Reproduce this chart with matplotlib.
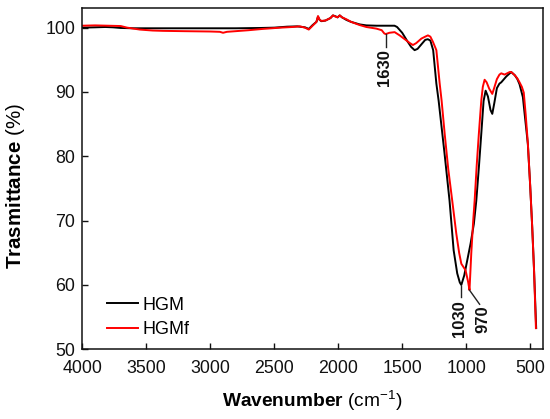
import matplotlib
matplotlib.use("Agg")
import matplotlib.pyplot as plt

plt.rcParams['font.family'] = ['Liberation Sans', 'DejaVu Sans']
plt.rcParams['mathtext.fontset'] = 'custom'
plt.rcParams['mathtext.rm'] = 'Liberation Sans'
plt.rcParams['mathtext.it'] = 'Liberation Sans:italic'
plt.rcParams['mathtext.bf'] = 'Liberation Sans:bold'

# ---- data ----
hgm_wn = [4000, 3900, 3820, 3760, 3700, 3600, 3400, 3200, 3000, 2800, 2600, 2500, 2400,
          2320, 2260, 2230, 2200, 2170, 2158, 2145, 2131, 2100, 2060, 2041, 2020, 2005,
          1988, 1970, 1936, 1900, 1832, 1780, 1700, 1600, 1560, 1540, 1500, 1460, 1430,
          1403, 1380, 1350, 1320, 1300, 1280, 1258, 1233, 1215, 1170, 1130, 1098, 1070,
          1050, 1038, 1015, 990, 965, 940, 921, 900, 882, 864, 848, 830, 810, 796, 780,
          760, 740, 726, 700, 687, 665, 648, 620, 600, 583, 557, 540, 518, 500, 484, 470, 453]
hgm_t = [100.0, 100.05, 100.1, 100.05, 99.95, 99.9, 99.9, 99.9, 99.9, 99.9, 99.95, 100.0, 100.15,
         100.2, 100.05, 99.8, 100.4, 100.9, 101.7, 101.2, 101.0, 101.1, 101.5, 101.9, 101.75, 101.6,
         101.9, 101.6, 101.2, 100.9, 100.5, 100.35, 100.3, 100.3, 100.3, 100.1, 99.2, 97.9, 97.0,
         96.5, 96.7, 97.4, 98.1, 98.2, 98.0, 96.5, 91.3, 88.6, 80.6, 73.1, 65.4, 61.8,
         60.4, 60.0, 61.5, 64.0, 66.5, 69.5, 73.1, 78.5, 83.5, 88.6, 90.2, 89.3, 87.2, 86.6, 88.3,
         90.6, 91.3, 91.5, 92.1, 92.4, 92.8, 93.1, 92.6, 92.0, 91.2, 89.2, 86.0, 81.9, 75.5, 69.0, 62.5, 53.3]

hgmf_wn = [4000, 3900, 3800, 3700, 3650, 3550, 3450, 3370, 3200, 3000, 2925, 2900, 2870, 2700,
           2590, 2450, 2357, 2300, 2260, 2230, 2200, 2170, 2158, 2145, 2131, 2100, 2060, 2041,
           2020, 2005, 1988, 1970, 1936, 1900, 1832, 1780, 1702, 1660, 1640, 1629, 1600, 1559,
           1520, 1480, 1440, 1416, 1390, 1350, 1320, 1299, 1280, 1260, 1233, 1207, 1192, 1168,
           1140, 1109, 1077, 1055, 1038, 1005, 985, 974, 960, 945, 934, 918, 901, 882, 870, 856,
           840, 820, 796, 780, 760, 740, 726, 700, 680, 660, 648, 620, 600, 583, 565, 550, 535,
           518, 500, 484, 470, 455]
hgmf_t = [100.3, 100.35, 100.3, 100.25, 100.0, 99.7, 99.55, 99.5, 99.45, 99.4, 99.35, 99.2, 99.35, 99.6,
          99.8, 100.0, 100.1, 100.2, 100.0, 99.7, 100.3, 100.9, 101.8, 101.2, 101.05, 101.1, 101.5, 101.9,
          101.7, 101.6, 101.9, 101.6, 101.3, 100.9, 100.4, 100.1, 99.85, 99.6, 99.1, 99.0, 99.2, 99.3,
          98.8, 98.2, 97.6, 97.3, 97.6, 98.3, 98.6, 98.8, 98.6, 97.8, 96.5, 91.3, 88.65, 83.5,
          78.0, 73.1, 67.95, 65.0, 63.3, 62.3, 60.5, 59.2, 65.0, 70.0, 73.1, 78.5, 83.5, 88.65, 90.8, 91.9,
          91.5, 90.5, 89.7, 90.7, 92.0, 92.7, 92.9, 92.7, 92.9, 93.1, 93.1, 92.6, 92.1, 91.5, 90.8, 89.9, 86.5,
          82.0, 75.5, 69.0, 62.5, 53.3]

series_labels = ["HGM", "HGMf"]
series_colors = ["#000000", "#ff0000"]

# annotations: label, line start (wn, level), line end (wn, level), text centre (wn, level)
ann_labels = ["1630", "1030", "970"]
ann_start = [(1629, 99.0), (1038, 59.9), (974, 59.2)]
ann_end = [(1629, 97.0), (1038, 58.2), (895, 57.0)]
ann_text = [(1635, 93.8), (1052, 54.8), (866, 54.7)]

xticks = [4000, 3500, 3000, 2500, 2000, 1500, 1000, 500]
yticks = [50, 60, 70, 80, 90, 100]

# ---- figure ----
fig = plt.figure(figsize=(5.5, 4.19), dpi=100)
ax = fig.add_axes([0.1496, 0.1663, 0.8376, 0.8138])

ax.plot(hgm_wn, hgm_t, color=series_colors[0], lw=1.4, label=series_labels[0])
ax.plot(hgmf_wn, hgmf_t, color=series_colors[1], lw=1.4, label=series_labels[1])

for lab, s, e, t in zip(ann_labels, ann_start, ann_end, ann_text):
    ax.plot([s[0], e[0]], [s[1], e[1]], color='#222222', lw=1.0)
    ax.text(t[0], t[1], lab, rotation=90, ha='center', va='center',
            fontsize=12, fontweight='bold', color='#111111')

ax.set_xlim(4000, 400)
ax.set_ylim(50, 103)
ax.set_xticks(xticks)
ax.set_yticks(yticks)
ax.tick_params(axis='both', direction='in', length=4, width=1.0, labelsize=12.8,
               colors='#111111')
ax.tick_params(axis='x', pad=8)
ax.tick_params(axis='y', pad=5)
for sp in ax.spines.values():
    sp.set_linewidth(1.1)
    sp.set_color('#111111')

leg = ax.legend(loc='lower left', bbox_to_anchor=(0.034, 0.006), frameon=False,
                fontsize=13, handlelength=1.7, handletextpad=0.25, labelspacing=0.42,
                borderpad=0.0)

fig.text(312.5 / 550, 1 - 406.7 / 419, r'$\mathbf{Wavenumber}$ (cm$^{-1}$)',
         ha='center', va='baseline', fontsize=13.8)
fig.text(16 / 550, 1 - 186 / 419, r'$\mathbf{Trasmittance}$ (%)',
         ha='center', va='center', rotation=90, fontsize=14.8)

fig.savefig('out.png', dpi=100)
